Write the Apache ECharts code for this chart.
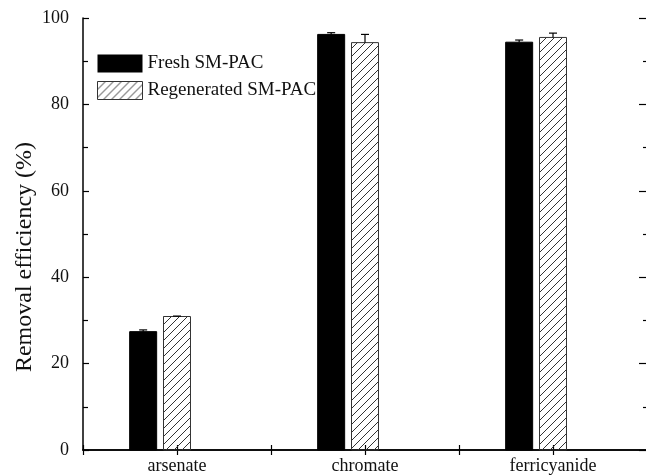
<!DOCTYPE html>
<html>
<head>
<meta charset="utf-8">
<script src="https://cdn.jsdelivr.net/npm/echarts@6/dist/echarts.min.js"></script>
<style>
  html, body { margin: 0; padding: 0; background: #fff; }
  #chart { width: 646px; height: 475px; }
</style>
</head>
<body>
<div id="chart"></div>
<script>
// Removal efficiency of fresh vs regenerated SM-PAC for three anions
const categories = ['arsenate', 'chromate', 'ferricyanide'];
const seriesNames = ['Fresh SM-PAC', 'Regenerated SM-PAC'];
const freshValues = [27.4, 96.2, 94.4];
const freshErrors = [0.4, 0.4, 0.5];
const regenValues = [30.9, 94.3, 95.5];
const regenErrors = [0.1, 1.9, 1.0];
const yTicks = [0, 20, 40, 60, 80, 100];

const FONT = '"Liberation Serif", "Times New Roman", serif';

// Diagonal hatch tile for the regenerated bars
function hatchPattern() {
  const c = document.createElement('canvas');
  c.width = 8; c.height = 8;
  const g = c.getContext('2d');
  g.strokeStyle = '#333';
  g.lineWidth = 1;
  g.beginPath();
  g.moveTo(0, 8); g.lineTo(8, 0);
  g.moveTo(-2, 2); g.lineTo(2, -2);
  g.moveTo(6, 10); g.lineTo(10, 6);
  g.stroke();
  return { image: c, repeat: 'repeat' };
}
const hatch = hatchPattern();

const BAR_W = 0.1436;      // bar width in axis units
const FRESH_SHIFT = -0.18; // fresh bar sits left of the category tick

function makeData(values, errors) {
  return values.map((v, i) => [i + 1, v, errors[i]]);
}

function barRenderer(shift, fill, stroke) {
  return function (params, api) {
    const x = api.value(0) + shift;
    const v = api.value(1);
    const e = api.value(2);
    const base = api.coord([x, 0]);
    const top = api.coord([x, v]);
    const errTop = api.coord([x, v + e]);
    const w = api.size([BAR_W, 0])[0];
    const children = [{
      type: 'rect',
      shape: { x: top[0] - w / 2, y: top[1], width: w, height: base[1] - top[1] },
      style: { fill: fill, stroke: stroke, lineWidth: 1 }
    }];
    if (e > 0) {
      children.push({
        type: 'line',
        shape: { x1: top[0], y1: top[1], x2: errTop[0], y2: errTop[1] },
        style: { stroke: '#000', lineWidth: 1.2 }
      }, {
        type: 'line',
        shape: { x1: top[0] - 4, y1: errTop[1], x2: top[0] + 4, y2: errTop[1] },
        style: { stroke: '#000', lineWidth: 1.2 }
      });
    }
    return { type: 'group', children: children };
  };
}

const axisLineStyle = { color: '#000', width: 1.5 };

const chart = echarts.init(document.getElementById('chart'), null, { renderer: 'canvas' });
chart.setOption({
  animation: false,
  backgroundColor: '#fff',
  grid: {
    left: 83, top: 18, width: 564, height: 432,
    containLabel: false, outerBoundsMode: 'none'
  },
  legend: {
    left: 97, top: 54, orient: 'vertical', padding: 0,
    itemWidth: 45, itemHeight: 18, itemGap: 8,
    textStyle: { fontFamily: FONT, fontSize: 19, color: '#111' },
    data: [
      { name: seriesNames[0], icon: 'rect', itemStyle: { color: '#000', borderWidth: 0 } },
      { name: seriesNames[1], icon: 'rect', itemStyle: { color: hatch, borderColor: '#333', borderWidth: 1 } }
    ]
  },
  xAxis: [{
    type: 'value', position: 'bottom', min: 0.5, max: 3.5, interval: 0.5,
    axisLine: { lineStyle: axisLineStyle },
    axisTick: { inside: true, length: 5, lineStyle: { color: '#000', width: 1.2 } },
    splitLine: { show: false },
    axisLabel: {
      margin: 7, fontFamily: FONT, fontSize: 18, color: '#111',
      showMinLabel: true, showMaxLabel: true,
      formatter: v => Number.isInteger(v) ? categories[v - 1] : ''
    }
  }, {
    type: 'value', position: 'top', min: 0.5, max: 3.5, interval: 0.5,
    axisLine: { lineStyle: axisLineStyle },
    axisTick: { inside: true, length: 5, lineStyle: { color: '#000', width: 1.2 } },
    axisLabel: { show: false },
    splitLine: { show: false }
  }],
  yAxis: [{
    type: 'value', position: 'left', min: yTicks[0], max: yTicks[yTicks.length - 1], interval: 20,
    name: 'Removal efficiency (%)', nameLocation: 'middle', nameGap: 46,
    nameMoveOverlap: false,
    nameTextStyle: { fontFamily: FONT, fontSize: 24, color: '#111', padding: [0, 46, 0, 0] },
    axisLine: { show: true, lineStyle: axisLineStyle },
    axisTick: { inside: true, length: 6, lineStyle: { color: '#000', width: 1.2 } },
    minorTick: { show: true, splitNumber: 2, length: 5, lineStyle: { color: '#000', width: 1.2 } },
    splitLine: { show: false },
    axisLabel: { margin: 14, fontFamily: FONT, fontSize: 18, color: '#111' }
  }, {
    type: 'value', position: 'right', min: yTicks[0], max: yTicks[yTicks.length - 1], interval: 20,
    axisLine: { show: true, lineStyle: axisLineStyle },
    axisTick: { inside: true, length: 8, lineStyle: { color: '#000', width: 1.2 } },
    minorTick: { show: true, splitNumber: 2, length: 4, lineStyle: { color: '#000', width: 1.2 } },
    splitLine: { show: false },
    axisLabel: { show: false }
  }],
  series: [{
    name: seriesNames[0], type: 'custom', xAxisIndex: 0, yAxisIndex: 0,
    itemStyle: { color: '#000' },
    encode: { x: 0, y: 1 },
    renderItem: barRenderer(FRESH_SHIFT, '#000', '#000'),
    data: makeData(freshValues, freshErrors)
  }, {
    name: seriesNames[1], type: 'custom', xAxisIndex: 0, yAxisIndex: 0,
    itemStyle: { color: hatch, borderColor: '#333', borderWidth: 1 },
    encode: { x: 0, y: 1 },
    renderItem: barRenderer(0, hatch, '#333'),
    data: makeData(regenValues, regenErrors)
  }]
});
</script>
</body>
</html>
